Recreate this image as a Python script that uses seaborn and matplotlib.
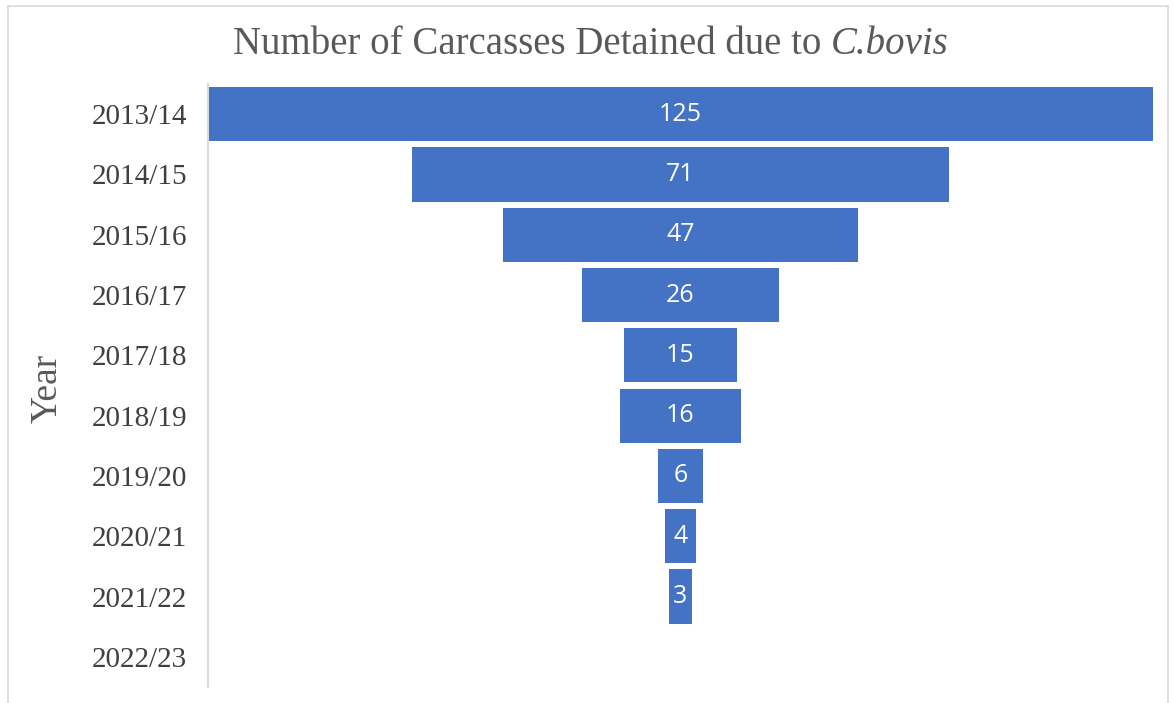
import matplotlib
matplotlib.use("Agg")
import matplotlib.pyplot as plt
import seaborn as sns
import pandas as pd
from matplotlib.patches import Rectangle
from matplotlib.offsetbox import TextArea, HPacker, AnchoredOffsetbox

years = ["2013/14", "2014/15", "2015/16", "2016/17", "2017/18",
         "2018/19", "2019/20", "2020/21", "2021/22", "2022/23"]
carcasses = [125, 71, 47, 26, 15, 16, 6, 4, 3, 0]

sns.set_theme(style="white")
plt.rcParams["font.family"] = ["Liberation Serif", "DejaVu Serif"]

df = pd.DataFrame({"year": years, "value": carcasses})
df["half"] = df["value"] / 2.0
df["neg"] = -df["value"] / 2.0

fig = plt.figure(figsize=(11.73, 7.03), dpi=100)
ax = fig.add_axes([208 / 1173, 1 - 687 / 703, (1153 - 208) / 1173, (687 - 84) / 703])

bar_color = "#4472C4"
sns.barplot(data=df, x="half", y="year", order=years, color=bar_color,
            saturation=1, width=0.9, linewidth=0, ax=ax, errorbar=None)
sns.barplot(data=df, x="neg", y="year", order=years, color=bar_color,
            saturation=1, width=0.9, linewidth=0, ax=ax, errorbar=None)

half_max = max(carcasses) / 2.0
ax.set_xlim(-half_max, half_max)
ax.set_ylim(len(years) - 0.5, -0.5)

for i, v in enumerate(carcasses):
    if v > 0:
        ax.text(0, i, str(v), ha="center", va="center", color="white",
                fontsize=18, family="Open Sans")

ax.set_xlabel("")
ax.set_ylabel("")
ax.set_xticks([])
ax.tick_params(axis="y", length=0, pad=15, labelsize=21, labelcolor="#404040")
for s in ["top", "right", "bottom"]:
    ax.spines[s].set_visible(False)
ax.spines["left"].set_color("#D9D9D9")
ax.spines["left"].set_linewidth(1.5)

tprops = dict(fontsize=28, color="#595959", family="Liberation Serif")
t1 = TextArea("Number of Carcasses Detained due to ", textprops=tprops)
t2 = TextArea("C.bovis", textprops=dict(tprops, style="italic"))
box = HPacker(children=[t1, t2], align="baseline", pad=0, sep=0)
anchored = AnchoredOffsetbox(loc="center", child=box, pad=0, frameon=False,
                             bbox_to_anchor=(591 / 1173, 1 - 45 / 703),
                             bbox_transform=fig.transFigure, borderpad=0)
fig.add_artist(anchored)

fig.text(47 / 1173, 1 - 388 / 703, "Year", rotation=90, ha="center",
         va="center", fontsize=27, color="#595959")

fig.patches.append(Rectangle((8 / 1173, -0.01), (1168 - 8) / 1173, 1 - 6 / 703 + 0.01,
                             transform=fig.transFigure, fill=False,
                             edgecolor="#D9D9D9", linewidth=1.2))

fig.savefig("out.png", dpi=100)
